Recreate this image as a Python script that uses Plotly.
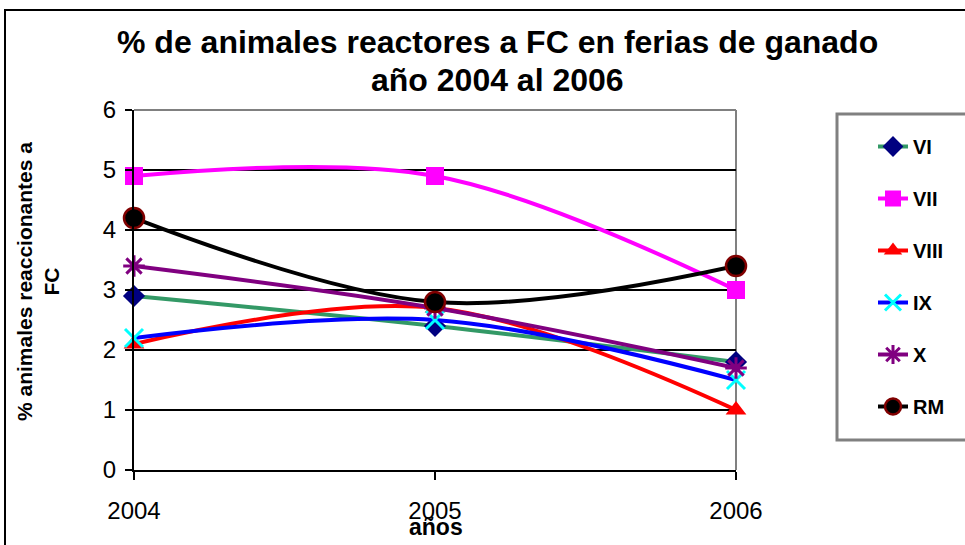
import plotly.graph_objects as go

years = [2004, 2005, 2006]
series_names = ["VI", "VII", "VIII", "IX", "X", "RM"]
vi = [2.9, 2.4, 1.8]
vii = [4.9, 4.9, 3.0]
viii = [2.1, 2.7, 1.0]
ix = [2.2, 2.5, 1.5]
x_reg = [3.4, 2.7, 1.7]
rm = [4.2, 2.8, 3.4]
y_ticks = [0, 1, 2, 3, 4, 5, 6]
x_ticks = [2004, 2005, 2006]

styles = [
    dict(line=dict(color="#339966", width=4), marker=dict(symbol="diamond", color="#000080", size=17)),
    dict(line=dict(color="#FF00FF", width=4), marker=dict(symbol="square", color="#FF00FF", size=18)),
    dict(line=dict(color="#FF0000", width=4), marker=dict(symbol="triangle-up", color="#FF0000", size=18)),
    dict(line=dict(color="#0000FF", width=4), marker=dict(symbol="x-thin-open", color="#00FFFF", size=18,
                                                         line=dict(color="#00FFFF", width=3))),
    dict(line=dict(color="#800080", width=4), marker=dict(symbol="asterisk-open", color="#800080", size=18,
                                                         line=dict(color="#800080", width=3))),
    dict(line=dict(color="#000000", width=4), marker=dict(symbol="circle", color="#000000", size=20,
                                                         line=dict(color="#800000", width=2.5))),
]
values = [vi, vii, viii, ix, x_reg, rm]

fig = go.Figure()
for name, vals, st in zip(series_names, values, styles):
    fig.add_trace(go.Scatter(
        x=years, y=vals, name=name, mode="lines+markers",
        line=dict(shape="spline", smoothing=1, **st["line"]),
        marker=st["marker"], cliponaxis=False, legendgroup=name,
    ))

L, R, T, B = 134, 229, 110, 75
W, H = 965, 545
pw, ph = W - L - R, H - T - B

def px_x(px):
    return (px - L) / pw

def px_y(py):
    return (H - B - py) / ph

fig.update_layout(
    width=W, height=H,
    margin=dict(l=L, r=R, t=T, b=B),
    paper_bgcolor="white", plot_bgcolor="white",
    font=dict(family="Liberation Sans, Arial, sans-serif", color="black"),
    showlegend=True,
    legend=dict(
        x=px_x(873), y=px_y(127), xanchor="left", yanchor="top",
        font=dict(size=20, family="Liberation Sans, Arial, sans-serif", color="black", weight="bold"),
        bgcolor="rgba(0,0,0,0)", borderwidth=0, tracegroupgap=23,
    ),
    xaxis=dict(
        range=[2004, 2006], tickvals=x_ticks, ticktext=[str(v) for v in x_ticks],
        showgrid=False, zeroline=False, showline=True, linecolor="black", linewidth=2,
        ticks="outside", ticklen=8, tickwidth=2, tickcolor="black",
        tickfont=dict(size=24), ticklabelstandoff=10,
    ),
    yaxis=dict(
        range=[0, 6], tickvals=y_ticks,
        showgrid=True, gridcolor="black", gridwidth=2, zeroline=False,
        showline=True, linecolor="black", linewidth=2,
        ticks="outside", ticklen=7, tickwidth=2, tickcolor="black",
        tickfont=dict(size=24), ticklabelstandoff=4,
    ),
    shapes=[
        dict(type="line", xref="paper", yref="paper", x0=0, x1=1, y0=1, y1=1,
             line=dict(color="#808080", width=2), layer="above"),
        dict(type="line", xref="paper", yref="paper", x0=1, x1=1, y0=0, y1=1,
             line=dict(color="#808080", width=2), layer="between"),
        dict(type="rect", xref="paper", yref="paper", x0=px_x(5), x1=px_x(1000), y0=px_y(10), y1=px_y(600),
             line=dict(color="black", width=2), layer="below"),
        dict(type="rect", xref="paper", yref="paper", x0=px_x(837), x1=px_x(1000), y0=px_y(114), y1=px_y(440),
             line=dict(color="#808080", width=3), layer="below"),
    ],
    annotations=[
        dict(text="<b>% de animales reactores a FC en ferias de ganado</b>", xref="paper", yref="paper",
             x=px_x(497), y=px_y(42), xanchor="center", yanchor="middle", showarrow=False,
             font=dict(size=32)),
        dict(text="<b>año 2004 al 2006</b>", xref="paper", yref="paper",
             x=px_x(497), y=px_y(80), xanchor="center", yanchor="middle", showarrow=False,
             font=dict(size=32)),
        dict(text="<b>% animales reaccionantes a<br>FC</b>", xref="paper", yref="paper",
             x=px_x(38), y=px_y(282), xanchor="center", yanchor="middle", showarrow=False,
             textangle=-90, font=dict(size=21)),
        dict(text="<b>años</b>", xref="paper", yref="paper",
             x=px_x(436), y=px_y(527), xanchor="center", yanchor="middle", showarrow=False,
             font=dict(size=23)),
    ],
)

fig.write_html("out.html", config={"displayModeBar": False},
               post_script="document.body.style.margin='0';")
